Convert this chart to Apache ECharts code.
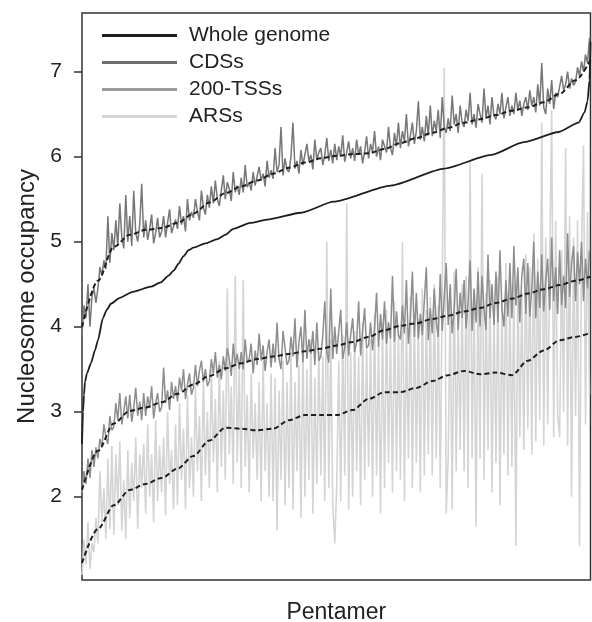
<!DOCTYPE html>
<html>
<head>
<meta charset="utf-8">
<script src="https://cdn.jsdelivr.net/npm/echarts@6/dist/echarts.min.js"></script>
<style>
html, body { margin: 0; padding: 0; background: #fff; }
#chart { width: 592px; height: 622px; }
</style>
</head>
<body>
<div id="chart"></div>
<script>
// y tick labels
var yTicks = [2, 3, 4, 5, 6, 7];

// whole genome: sorted occupancy, read at these pentamer ranks
var wholeRank = [0, 1, 2, 3, 5, 9, 13, 16, 21, 25, 29, 38, 51, 69, 79, 87, 92, 97, 102, 107, 112, 124, 136, 144, 152, 169, 186, 220, 253, 310, 364, 411, 444, 479, 499, 505, 508, 510, 511];
var wholeVal = [2.62, 3.0, 3.2, 3.35, 3.45, 3.57, 3.72, 3.84, 4.1, 4.2, 4.27, 4.34, 4.41, 4.47, 4.52, 4.6, 4.66, 4.74, 4.83, 4.9, 4.93, 4.98, 5.03, 5.08, 5.15, 5.22, 5.26, 5.34, 5.47, 5.66, 5.86, 6.02, 6.17, 6.29, 6.4, 6.52, 6.65, 6.9, 7.35];

// noisy series, one value every 2nd pentamer rank
var cds = [
  3.9,4.25,4.1,4.5,4.0,4.35,4.45,4.28, 4.45,4.7,4.6,4.78,4.68,5.3,4.75,5.1,
  4.9,5.25,4.95,5.45,5.05,4.92,5.55,5.0, 5.3,4.95,5.6,5.1,5.0,5.2,5.68,5.05,
  5.25,5.02,5.15,5.32,4.98,5.1,5.28,5.05, 5.12,5.3,5.05,5.22,5.38,5.1,5.18,5.26,
  5.15,5.42,5.2,5.3,5.12,5.5,5.25,5.35, 5.28,5.5,5.36,5.25,5.6,5.4,5.32,5.55,
  5.4,5.65,5.45,5.72,5.5,5.42,5.6,5.78, 5.5,5.7,5.62,5.48,5.82,5.58,5.66,5.55,
  5.75,5.58,5.9,5.64,5.7,5.6,5.82,5.66, 5.68,5.88,5.72,5.8,5.65,5.95,5.75,5.84,
  5.74,6.1,5.82,5.9,6.35,5.78,5.98,5.85, 5.82,6.0,6.4,5.86,5.95,5.8,6.08,5.9,
  5.88,6.15,5.95,6.02,5.85,6.2,5.96,6.05, 6.1,5.9,6.02,6.22,5.95,6.08,5.92,6.15,
  5.96,6.12,6.0,6.25,5.94,6.05,6.18,5.98, 6.1,5.95,6.2,6.02,6.12,5.92,6.06,6.24,
  5.98,6.15,6.05,6.3,6.0,6.12,5.96,6.2, 6.22,6.05,6.35,6.1,6.02,6.28,6.12,6.4,
  6.1,6.3,6.18,6.5,6.12,6.25,6.4,6.15, 6.3,6.65,6.2,6.35,6.18,6.48,6.25,6.6,
  6.24,6.42,6.3,6.55,6.22,6.7,6.35,6.28, 6.45,6.3,6.72,6.38,6.5,6.28,6.6,6.4,
  6.35,6.55,6.42,6.75,6.38,6.5,6.34,6.62, 6.5,6.4,6.8,6.45,6.6,6.38,6.7,6.48,
  6.44,6.62,6.5,6.75,6.45,6.58,6.7,6.48, 6.6,6.5,6.75,6.55,6.66,6.48,6.62,6.7,
  6.55,6.78,6.6,6.7,6.52,6.85,6.6,7.1, 6.58,6.5,6.8,6.62,6.9,6.56,6.75,6.7,
  6.7,6.95,6.78,6.85,7.0,6.8,6.92,6.84, 6.88,7.05,6.95,7.12,7.0,7.2,7.1,7.4
];
var tss = [
  2.05,2.3,2.15,2.45,2.22,2.55,2.35,2.58, 2.45,2.68,2.58,2.85,2.7,2.62,2.95,2.78,
  2.82,3.1,2.9,3.22,2.85,3.0,3.18,2.92, 3.2,2.88,3.05,3.28,2.95,3.12,2.9,3.22,
  2.95,3.18,3.05,3.3,2.92,3.1,3.22,3.0, 3.05,3.52,3.1,3.25,3.02,3.35,3.15,3.3,
  3.12,3.4,3.25,3.5,3.15,3.32,3.45,3.2, 3.28,3.55,3.3,3.48,3.6,3.35,3.5,3.3,
  3.36,3.62,3.45,3.7,3.4,3.55,3.38,3.65, 3.48,3.75,3.62,3.42,3.8,3.55,3.68,3.5,
  3.7,3.5,3.85,3.58,3.62,3.8,3.45,3.72, 3.55,3.92,3.6,3.78,3.48,3.7,3.85,3.52,
  3.8,3.58,4.05,3.62,3.5,3.95,3.75,3.55, 3.6,3.88,3.65,4.1,3.52,3.82,4.0,3.58,
  4.2,3.62,3.85,3.68,3.95,3.55,4.05,3.6, 3.65,3.9,4.3,3.7,3.58,4.45,3.62,4.0,
  3.68,3.95,4.2,3.62,3.75,4.05,3.66,3.9, 4.1,3.7,3.82,4.3,3.66,3.95,4.22,3.75,
  3.78,4.05,3.72,3.98,4.4,3.76,4.15,3.85, 4.3,3.8,4.05,3.86,4.6,3.82,4.18,3.9,
  3.85,4.25,3.92,4.55,3.8,4.1,4.65,3.88, 4.4,3.86,4.15,3.9,4.3,4.7,3.84,4.22,
  3.92,4.45,4.05,3.88,4.62,3.95,4.35,4.75, 4.02,4.5,3.92,4.2,4.68,3.96,4.4,4.1,
  4.55,3.98,4.3,4.78,3.95,4.45,4.05,4.65, 4.0,4.6,4.2,3.96,4.85,4.1,4.5,4.02,
  4.65,4.05,4.9,4.2,4.0,4.55,4.12,4.75, 4.1,4.95,4.25,4.7,4.05,4.6,4.8,4.15,
  4.75,4.12,4.45,5.0,4.1,4.65,4.22,4.85, 4.18,4.55,4.8,4.2,5.05,4.3,4.7,4.15,
  4.9,4.25,4.6,4.22,5.1,4.35,4.75,4.95, 4.3,4.88,4.5,5.0,4.3,4.8,4.45,4.9
];
var ars = [
  1.08,1.5,1.2,1.7,1.15,1.45,1.35,1.75, 1.45,2.3,1.7,2.1,1.5,2.45,1.62,2.6,
  1.55,2.5,1.9,2.65,1.6,2.2,1.5,2.55, 1.75,2.4,1.95,2.7,1.62,2.5,2.1,2.62,
  1.8,2.85,2.0,2.5,1.7,2.9,1.95,2.6, 2.05,2.7,1.78,3.0,2.15,2.55,1.85,2.85,
  1.9,3.1,2.2,2.8,1.85,3.2,2.1,2.7, 2.0,3.3,2.3,2.95,1.95,3.4,2.25,3.0,
  2.1,3.5,2.4,3.15,2.05,3.6,2.35,3.25, 2.2,4.45,2.5,3.3,2.15,4.6,2.4,3.5,
  2.1,4.55,2.35,3.2,2.05,3.45,2.45,3.1, 2.2,3.35,1.95,3.6,2.3,3.1,2.0,3.45,
  1.95,3.4,1.6,3.25,2.2,3.6,1.9,3.35, 2.1,3.7,1.85,3.35,2.3,3.55,1.75,3.8,
  2.0,3.5,2.2,3.85,1.8,3.4,2.15,3.7, 2.25,3.65,1.95,5.0,2.1,3.85,1.9,1.45,
  2.15,3.6,1.95,3.9,2.25,5.45,1.85,3.7, 2.0,3.95,2.3,3.65,1.9,4.05,2.2,3.75,
  2.35,3.85,2.0,4.15,2.25,3.8,1.8,4.05, 2.1,4.2,2.4,3.9,2.05,4.3,2.3,3.95,
  2.2,5.0,1.95,4.0,2.45,4.35,2.1,4.15, 2.4,4.1,2.05,4.45,2.25,4.2,2.5,4.35,
  2.25,4.5,2.45,4.25,2.1,4.4,7.05,1.8, 2.45,4.3,1.85,4.65,2.3,4.2,2.55,4.5,
  2.3,4.6,2.1,5.95,2.45,4.35,1.65,4.7, 2.45,5.8,2.2,4.4,2.55,4.55,2.05,4.25,
  2.4,4.6,1.9,4.3,2.5,4.75,2.25,4.45, 2.35,4.5,1.42,4.65,2.7,4.4,2.55,4.85,
  2.8,4.7,2.5,5.1,2.65,4.8,2.9,6.4, 2.6,5.05,2.85,4.75,6.55,2.7,5.25,2.95,
  2.7,4.9,3.0,6.1,2.6,5.3,2.0,5.05, 2.95,5.25,1.42,4.95,6.13,2.85,5.35,3.2
];

// smoothed trends (dashed), every 16th rank
var trendRank = [0, 16, 32, 48, 64, 80, 96, 112, 128, 144, 160, 176, 192, 208, 224, 240, 256, 272, 288, 304, 320, 336, 352, 368, 384, 400, 416, 432, 448, 464, 480, 496, 511];
var cdsTrend = [4.0, 4.54, 4.94, 5.08, 5.14, 5.16, 5.22, 5.33, 5.46, 5.57, 5.65, 5.72, 5.8, 5.87, 5.93, 5.98, 6.01, 6.03, 6.04, 6.09, 6.16, 6.22, 6.28, 6.34, 6.4, 6.44, 6.49, 6.54, 6.58, 6.64, 6.74, 6.9, 7.14];
var tssTrend = [2.08, 2.54, 2.86, 3.01, 3.05, 3.11, 3.21, 3.32, 3.42, 3.51, 3.57, 3.62, 3.65, 3.68, 3.71, 3.74, 3.78, 3.82, 3.88, 3.96, 4.01, 4.04, 4.09, 4.13, 4.18, 4.22, 4.28, 4.33, 4.39, 4.44, 4.49, 4.54, 4.59];
var arsTrend = [1.22, 1.62, 1.9, 2.08, 2.15, 2.22, 2.33, 2.48, 2.66, 2.81, 2.8, 2.78, 2.8, 2.9, 2.96, 2.96, 2.96, 3.02, 3.15, 3.23, 3.23, 3.28, 3.36, 3.43, 3.48, 3.44, 3.46, 3.43, 3.6, 3.72, 3.84, 3.88, 3.93];

function pairs(xs, ys) {
  return ys.map(function (v, i) { return [xs[i], v]; });
}
function everyOther(ys) {
  return ys.map(function (v, k) { return [2 * k, v]; });
}

var chart = echarts.init(document.getElementById('chart'));

var noisy = { type: 'line', showSymbol: false, symbol: 'none', silent: true, sampling: null };
var dashed = { type: 'line', showSymbol: false, symbol: 'none', silent: true, smooth: 0.3, smoothMonotone: 'x',
  lineStyle: { color: '#1e1e1e', width: 2, type: [5, 3] } };

chart.setOption({
  animation: false,
  textStyle: { fontFamily: 'Liberation Sans, Arial, sans-serif' },
  grid: { left: 82, right: 1.5, top: 13, bottom: 42, show: true, borderColor: '#333', borderWidth: 1.5, outerBoundsMode: 'none' },
  legend: {
    orient: 'vertical', left: 97, top: 20,
    icon: 'rect', itemWidth: 75, itemHeight: 3, itemGap: 6,
    textStyle: { fontSize: 21, color: '#222', lineHeight: 21, padding: [0, 0, 0, 7] },
    data: [
      { name: 'Whole genome', itemStyle: { color: '#1e1e1e' } },
      { name: 'CDSs', itemStyle: { color: '#6e6e6e' } },
      { name: '200-TSSs', itemStyle: { color: '#9c9c9c' } },
      { name: 'ARSs', itemStyle: { color: '#d6d6d6' } }
    ]
  },
  xAxis: {
    type: 'value', min: 0, max: 511,
    axisLine: { show: false }, axisTick: { show: false }, axisLabel: { show: false }, splitLine: { show: false },
    name: 'Pentamer', nameLocation: 'middle', nameGap: 21,
    nameTextStyle: { fontSize: 23, color: '#222' }
  },
  yAxis: {
    type: 'value', min: 1.02, max: 7.69,
    axisLine: { show: false },
    axisTick: { show: true, length: 8, customValues: yTicks, lineStyle: { color: '#333', width: 1.5 } },
    axisLabel: { customValues: yTicks, fontSize: 21, color: '#222', margin: 20 },
    splitLine: { show: false },
    name: 'Nucleosome occupancy', nameLocation: 'middle', nameGap: 33,
    nameTextStyle: { fontSize: 24, color: '#222' }
  },
  series: [
    Object.assign({}, noisy, { name: 'ARSs', data: everyOther(ars), lineStyle: { color: '#d4d4d4', width: 1.6 }, itemStyle: { color: '#d6d6d6' } }),
    Object.assign({}, noisy, { name: '200-TSSs', data: everyOther(tss), lineStyle: { color: '#8e8e8e', width: 1.5 }, itemStyle: { color: '#9c9c9c' } }),
    Object.assign({}, noisy, { name: 'CDSs', data: everyOther(cds), lineStyle: { color: '#777777', width: 1.5 }, itemStyle: { color: '#6e6e6e' } }),
    Object.assign({}, noisy, { name: 'Whole genome', data: pairs(wholeRank, wholeVal), smooth: 0.2, smoothMonotone: 'x', lineStyle: { color: '#1e1e1e', width: 1.8 }, itemStyle: { color: '#1e1e1e' } }),
    Object.assign({}, dashed, { name: 'ARS trend', data: pairs(trendRank, arsTrend) }),
    Object.assign({}, dashed, { name: 'TSS trend', data: pairs(trendRank, tssTrend) }),
    Object.assign({}, dashed, { name: 'CDS trend', data: pairs(trendRank, cdsTrend) })
  ]
});
</script>
</body>
</html>
